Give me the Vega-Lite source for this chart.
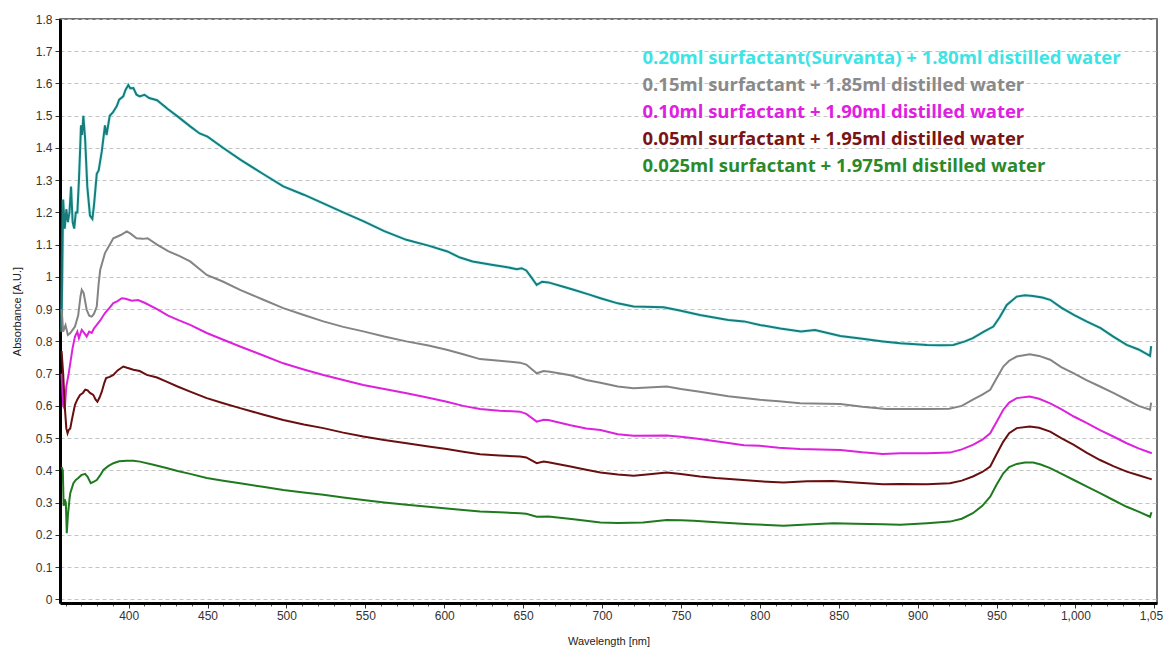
{
  "$schema": "https://vega.github.io/schema/vega-lite/v6.json",
  "width": 1097,
  "height": 584,
  "autosize": {"type": "none"},
  "padding": {"left": 60, "top": 19, "right": 6, "bottom": 49},
  "background": "white",
  "config": {
    "view": {"stroke": "#444", "strokeWidth": 1.5},
    "axis": {"labelFont": "Liberation Sans", "labelFontSize": 12, "labelColor": "#333", "titleFont": "Liberation Sans", "titleFontSize": 11, "titleFontWeight": "normal", "titleColor": "#222", "domainColor": "#000", "domainWidth": 3, "tickColor": "#333", "gridColor": "#c4c4c4", "gridDash": [4, 3], "gridWidth": 1}
  },
  "data": {"values": [
    {"k":"a","w":357.5,"v":0.83},{"k":"a","w":358.5,"v":1.24},{"k":"a","w":359.5,"v":1.15},{"k":"a","w":360.5,"v":1.21},{"k":"a","w":361.5,"v":1.17},{"k":"a","w":362.5,"v":1.2},{"k":"a","w":363.5,"v":1.28},{"k":"a","w":364.5,"v":1.17},{"k":"a","w":365.5,"v":1.15},{"k":"a","w":366.5,"v":1.2},{"k":"a","w":367.5,"v":1.2},{"k":"a","w":368.5,"v":1.3},{"k":"a","w":369.3,"v":1.4},{"k":"a","w":369.8,"v":1.47},{"k":"a","w":370.5,"v":1.44},{"k":"a","w":371.3,"v":1.5},{"k":"a","w":372.4,"v":1.43},{"k":"a","w":373.8,"v":1.28},{"k":"a","w":375.5,"v":1.19},{"k":"a","w":377,"v":1.18},{"k":"a","w":378,"v":1.22},{"k":"a","w":379.8,"v":1.32},{"k":"a","w":381,"v":1.33},{"k":"a","w":383,"v":1.39},{"k":"a","w":385,"v":1.47},{"k":"a","w":386,"v":1.44},{"k":"a","w":388,"v":1.5},{"k":"a","w":390,"v":1.51},{"k":"a","w":392.5,"v":1.53},{"k":"a","w":394,"v":1.55},{"k":"a","w":396.6,"v":1.56},{"k":"a","w":398,"v":1.58},{"k":"a","w":399.8,"v":1.595},{"k":"a","w":401,"v":1.585},{"k":"a","w":403,"v":1.586},{"k":"a","w":405,"v":1.565},{"k":"a","w":407,"v":1.56},{"k":"a","w":410,"v":1.565},{"k":"a","w":413,"v":1.555},{"k":"a","w":418,"v":1.548},{"k":"a","w":425,"v":1.52},{"k":"a","w":431,"v":1.498},{"k":"a","w":439,"v":1.467},{"k":"a","w":445,"v":1.445},{"k":"a","w":450,"v":1.435},{"k":"a","w":460,"v":1.4},{"k":"a","w":471,"v":1.363},{"k":"a","w":485,"v":1.32},{"k":"a","w":498,"v":1.281},{"k":"a","w":511,"v":1.255},{"k":"a","w":523,"v":1.229},{"k":"a","w":536,"v":1.2},{"k":"a","w":549,"v":1.172},{"k":"a","w":562,"v":1.142},{"k":"a","w":576,"v":1.115},{"k":"a","w":590,"v":1.097},{"k":"a","w":602,"v":1.079},{"k":"a","w":610,"v":1.06},{"k":"a","w":618,"v":1.048},{"k":"a","w":630,"v":1.038},{"k":"a","w":640,"v":1.03},{"k":"a","w":646,"v":1.024},{"k":"a","w":649,"v":1.027},{"k":"a","w":652,"v":1.02},{"k":"a","w":655,"v":1.0},{"k":"a","w":658.6,"v":0.975},{"k":"a","w":662,"v":0.985},{"k":"a","w":666,"v":0.983},{"k":"a","w":675,"v":0.97},{"k":"a","w":682,"v":0.96},{"k":"a","w":692,"v":0.945},{"k":"a","w":699,"v":0.934},{"k":"a","w":710,"v":0.918},{"k":"a","w":720,"v":0.908},{"k":"a","w":739,"v":0.906},{"k":"a","w":750,"v":0.895},{"k":"a","w":762,"v":0.882},{"k":"a","w":780,"v":0.866},{"k":"a","w":790,"v":0.862},{"k":"a","w":800,"v":0.851},{"k":"a","w":813,"v":0.84},{"k":"a","w":826,"v":0.831},{"k":"a","w":835,"v":0.835},{"k":"a","w":851,"v":0.817},{"k":"a","w":865,"v":0.808},{"k":"a","w":878,"v":0.8},{"k":"a","w":889,"v":0.794},{"k":"a","w":906,"v":0.789},{"k":"a","w":915,"v":0.788},{"k":"a","w":922.6,"v":0.789},{"k":"a","w":930,"v":0.8},{"k":"a","w":935,"v":0.81},{"k":"a","w":942,"v":0.83},{"k":"a","w":948,"v":0.846},{"k":"a","w":952,"v":0.875},{"k":"a","w":956.5,"v":0.913},{"k":"a","w":962.8,"v":0.939},{"k":"a","w":968,"v":0.943},{"k":"a","w":973,"v":0.941},{"k":"a","w":979,"v":0.936},{"k":"a","w":984,"v":0.929},{"k":"a","w":991,"v":0.905},{"k":"a","w":999,"v":0.882},{"k":"a","w":1007,"v":0.862},{"k":"a","w":1016,"v":0.841},{"k":"a","w":1024,"v":0.815},{"k":"a","w":1032.5,"v":0.789},{"k":"a","w":1040,"v":0.775},{"k":"a","w":1047.3,"v":0.755},{"k":"a","w":1048,"v":0.785},

    {"k":"b","w":357.5,"v":0.9},{"k":"b","w":358.5,"v":0.83},{"k":"b","w":360,"v":0.85},{"k":"b","w":361.5,"v":0.82},{"k":"b","w":363,"v":0.826},{"k":"b","w":366,"v":0.846},{"k":"b","w":368,"v":0.88},{"k":"b","w":369.5,"v":0.94},{"k":"b","w":370.3,"v":0.96},{"k":"b","w":371.5,"v":0.95},{"k":"b","w":373.4,"v":0.898},{"k":"b","w":375,"v":0.88},{"k":"b","w":376.6,"v":0.877},{"k":"b","w":378,"v":0.885},{"k":"b","w":379.8,"v":0.908},{"k":"b","w":381,"v":0.98},{"k":"b","w":382,"v":1.022},{"k":"b","w":385,"v":1.074},{"k":"b","w":388,"v":1.1},{"k":"b","w":390.3,"v":1.12},{"k":"b","w":395,"v":1.13},{"k":"b","w":398.8,"v":1.141},{"k":"b","w":401,"v":1.135},{"k":"b","w":405,"v":1.12},{"k":"b","w":409,"v":1.118},{"k":"b","w":412,"v":1.12},{"k":"b","w":418,"v":1.1},{"k":"b","w":425,"v":1.08},{"k":"b","w":432,"v":1.065},{"k":"b","w":439,"v":1.048},{"k":"b","w":449.5,"v":1.006},{"k":"b","w":460,"v":0.985},{"k":"b","w":470.6,"v":0.96},{"k":"b","w":485,"v":0.93},{"k":"b","w":498,"v":0.903},{"k":"b","w":511,"v":0.882},{"k":"b","w":523.4,"v":0.862},{"k":"b","w":536,"v":0.845},{"k":"b","w":548.7,"v":0.831},{"k":"b","w":562,"v":0.815},{"k":"b","w":576,"v":0.8},{"k":"b","w":590,"v":0.787},{"k":"b","w":601.6,"v":0.774},{"k":"b","w":612,"v":0.76},{"k":"b","w":622.7,"v":0.745},{"k":"b","w":635,"v":0.74},{"k":"b","w":648,"v":0.734},{"k":"b","w":652,"v":0.728},{"k":"b","w":658.6,"v":0.701},{"k":"b","w":663,"v":0.708},{"k":"b","w":667,"v":0.706},{"k":"b","w":680,"v":0.695},{"k":"b","w":690,"v":0.68},{"k":"b","w":699,"v":0.672},{"k":"b","w":710,"v":0.66},{"k":"b","w":720,"v":0.655},{"k":"b","w":741,"v":0.66},{"k":"b","w":750,"v":0.652},{"k":"b","w":762,"v":0.644},{"k":"b","w":780,"v":0.63},{"k":"b","w":800,"v":0.619},{"k":"b","w":812,"v":0.614},{"k":"b","w":825.5,"v":0.608},{"k":"b","w":851,"v":0.606},{"k":"b","w":865,"v":0.597},{"k":"b","w":880,"v":0.59},{"k":"b","w":906,"v":0.59},{"k":"b","w":920,"v":0.591},{"k":"b","w":928,"v":0.6},{"k":"b","w":935,"v":0.619},{"k":"b","w":941,"v":0.635},{"k":"b","w":946,"v":0.65},{"k":"b","w":950,"v":0.685},{"k":"b","w":954.3,"v":0.722},{"k":"b","w":958,"v":0.74},{"k":"b","w":962.8,"v":0.753},{"k":"b","w":971,"v":0.76},{"k":"b","w":977,"v":0.755},{"k":"b","w":984,"v":0.743},{"k":"b","w":991,"v":0.72},{"k":"b","w":999,"v":0.701},{"k":"b","w":1007,"v":0.68},{"k":"b","w":1015.6,"v":0.66},{"k":"b","w":1024,"v":0.64},{"k":"b","w":1032.5,"v":0.619},{"k":"b","w":1040,"v":0.6},{"k":"b","w":1047.3,"v":0.588},{"k":"b","w":1048,"v":0.61},

    {"k":"c","w":357.5,"v":0.7},{"k":"c","w":358.5,"v":0.6},{"k":"c","w":359.5,"v":0.59},{"k":"c","w":360.5,"v":0.66},{"k":"c","w":362,"v":0.7},{"k":"c","w":363,"v":0.732},{"k":"c","w":364.5,"v":0.78},{"k":"c","w":366,"v":0.815},{"k":"c","w":367.5,"v":0.83},{"k":"c","w":368.5,"v":0.81},{"k":"c","w":370.3,"v":0.836},{"k":"c","w":372,"v":0.825},{"k":"c","w":373.4,"v":0.815},{"k":"c","w":375,"v":0.83},{"k":"c","w":376.6,"v":0.826},{"k":"c","w":378,"v":0.84},{"k":"c","w":379.8,"v":0.851},{"k":"c","w":382,"v":0.865},{"k":"c","w":385,"v":0.888},{"k":"c","w":388,"v":0.905},{"k":"c","w":390.3,"v":0.919},{"k":"c","w":393,"v":0.925},{"k":"c","w":395.6,"v":0.934},{"k":"c","w":398,"v":0.932},{"k":"c","w":402,"v":0.926},{"k":"c","w":406,"v":0.928},{"k":"c","w":410.4,"v":0.919},{"k":"c","w":418,"v":0.9},{"k":"c","w":425,"v":0.88},{"k":"c","w":432,"v":0.865},{"k":"c","w":439,"v":0.851},{"k":"c","w":449.5,"v":0.826},{"k":"c","w":460,"v":0.805},{"k":"c","w":470.6,"v":0.784},{"k":"c","w":485,"v":0.757},{"k":"c","w":498,"v":0.732},{"k":"c","w":511,"v":0.713},{"k":"c","w":523.4,"v":0.696},{"k":"c","w":536,"v":0.68},{"k":"c","w":548.7,"v":0.665},{"k":"c","w":562,"v":0.652},{"k":"c","w":576.2,"v":0.639},{"k":"c","w":590,"v":0.625},{"k":"c","w":601.6,"v":0.613},{"k":"c","w":612,"v":0.6},{"k":"c","w":622.7,"v":0.59},{"k":"c","w":635,"v":0.585},{"k":"c","w":648,"v":0.582},{"k":"c","w":652,"v":0.575},{"k":"c","w":658.6,"v":0.551},{"k":"c","w":663,"v":0.557},{"k":"c","w":666,"v":0.556},{"k":"c","w":680,"v":0.54},{"k":"c","w":690,"v":0.53},{"k":"c","w":699,"v":0.525},{"k":"c","w":710,"v":0.512},{"k":"c","w":720,"v":0.507},{"k":"c","w":741,"v":0.508},{"k":"c","w":750,"v":0.504},{"k":"c","w":762,"v":0.497},{"k":"c","w":780,"v":0.485},{"k":"c","w":790,"v":0.478},{"k":"c","w":800,"v":0.476},{"k":"c","w":812,"v":0.47},{"k":"c","w":825.5,"v":0.466},{"k":"c","w":851,"v":0.463},{"k":"c","w":865,"v":0.456},{"k":"c","w":878,"v":0.451},{"k":"c","w":889,"v":0.453},{"k":"c","w":906,"v":0.453},{"k":"c","w":920.5,"v":0.455},{"k":"c","w":928,"v":0.465},{"k":"c","w":935,"v":0.479},{"k":"c","w":941,"v":0.495},{"k":"c","w":946,"v":0.515},{"k":"c","w":950,"v":0.55},{"k":"c","w":954.3,"v":0.588},{"k":"c","w":958,"v":0.61},{"k":"c","w":962.8,"v":0.624},{"k":"c","w":971,"v":0.629},{"k":"c","w":977,"v":0.622},{"k":"c","w":984,"v":0.608},{"k":"c","w":991,"v":0.59},{"k":"c","w":999,"v":0.567},{"k":"c","w":1007,"v":0.547},{"k":"c","w":1015.6,"v":0.525},{"k":"c","w":1024,"v":0.505},{"k":"c","w":1032.5,"v":0.484},{"k":"c","w":1040,"v":0.468},{"k":"c","w":1048.4,"v":0.453},

    {"k":"d","w":357.5,"v":0.77},{"k":"d","w":358.5,"v":0.7},{"k":"d","w":359.5,"v":0.6},{"k":"d","w":360.5,"v":0.53},{"k":"d","w":361.3,"v":0.515},{"k":"d","w":362,"v":0.525},{"k":"d","w":363,"v":0.53},{"k":"d","w":364,"v":0.556},{"k":"d","w":365,"v":0.58},{"k":"d","w":366,"v":0.603},{"k":"d","w":367.5,"v":0.62},{"k":"d","w":369.2,"v":0.634},{"k":"d","w":371,"v":0.64},{"k":"d","w":372.5,"v":0.65},{"k":"d","w":374,"v":0.648},{"k":"d","w":375.5,"v":0.64},{"k":"d","w":377.6,"v":0.634},{"k":"d","w":379,"v":0.62},{"k":"d","w":380.2,"v":0.613},{"k":"d","w":381.5,"v":0.625},{"k":"d","w":383,"v":0.644},{"k":"d","w":384.5,"v":0.67},{"k":"d","w":385.7,"v":0.686},{"k":"d","w":388,"v":0.69},{"k":"d","w":390.3,"v":0.696},{"k":"d","w":393,"v":0.71},{"k":"d","w":396.6,"v":0.722},{"k":"d","w":399,"v":0.718},{"k":"d","w":403,"v":0.712},{"k":"d","w":407,"v":0.708},{"k":"d","w":411.5,"v":0.696},{"k":"d","w":418,"v":0.688},{"k":"d","w":424,"v":0.675},{"k":"d","w":431,"v":0.66},{"k":"d","w":439,"v":0.644},{"k":"d","w":449.5,"v":0.624},{"k":"d","w":460,"v":0.608},{"k":"d","w":470.6,"v":0.593},{"k":"d","w":485,"v":0.573},{"k":"d","w":498,"v":0.556},{"k":"d","w":511,"v":0.542},{"k":"d","w":523.4,"v":0.531},{"k":"d","w":536,"v":0.517},{"k":"d","w":548.7,"v":0.505},{"k":"d","w":562,"v":0.494},{"k":"d","w":576.2,"v":0.484},{"k":"d","w":590,"v":0.474},{"k":"d","w":601.6,"v":0.466},{"k":"d","w":612,"v":0.458},{"k":"d","w":622.7,"v":0.45},{"k":"d","w":635,"v":0.446},{"k":"d","w":648,"v":0.443},{"k":"d","w":652,"v":0.44},{"k":"d","w":658.6,"v":0.422},{"k":"d","w":663,"v":0.427},{"k":"d","w":666,"v":0.425},{"k":"d","w":680,"v":0.412},{"k":"d","w":690,"v":0.402},{"k":"d","w":699,"v":0.393},{"k":"d","w":710,"v":0.387},{"k":"d","w":720,"v":0.383},{"k":"d","w":730,"v":0.388},{"k":"d","w":741,"v":0.393},{"k":"d","w":750,"v":0.389},{"k":"d","w":762,"v":0.381},{"k":"d","w":772,"v":0.376},{"k":"d","w":783,"v":0.372},{"k":"d","w":800,"v":0.366},{"k":"d","w":815,"v":0.362},{"k":"d","w":830,"v":0.366},{"k":"d","w":846,"v":0.367},{"k":"d","w":860,"v":0.362},{"k":"d","w":878,"v":0.357},{"k":"d","w":889,"v":0.358},{"k":"d","w":906,"v":0.357},{"k":"d","w":920.5,"v":0.36},{"k":"d","w":928,"v":0.368},{"k":"d","w":935,"v":0.381},{"k":"d","w":941,"v":0.395},{"k":"d","w":946,"v":0.412},{"k":"d","w":950,"v":0.45},{"k":"d","w":954.3,"v":0.489},{"k":"d","w":958,"v":0.515},{"k":"d","w":962.8,"v":0.531},{"k":"d","w":971,"v":0.536},{"k":"d","w":977,"v":0.532},{"k":"d","w":984,"v":0.52},{"k":"d","w":991,"v":0.5},{"k":"d","w":999,"v":0.479},{"k":"d","w":1007,"v":0.455},{"k":"d","w":1015.6,"v":0.432},{"k":"d","w":1024,"v":0.413},{"k":"d","w":1032.5,"v":0.396},{"k":"d","w":1040,"v":0.385},{"k":"d","w":1048.4,"v":0.372},

    {"k":"e","w":357.5,"v":0.41},{"k":"e","w":358.3,"v":0.4},{"k":"e","w":358.8,"v":0.29},{"k":"e","w":359.5,"v":0.31},{"k":"e","w":360.2,"v":0.3},{"k":"e","w":360.8,"v":0.205},{"k":"e","w":361.5,"v":0.26},{"k":"e","w":362.5,"v":0.31},{"k":"e","w":363,"v":0.329},{"k":"e","w":365,"v":0.36},{"k":"e","w":366.5,"v":0.37},{"k":"e","w":368.1,"v":0.376},{"k":"e","w":370,"v":0.385},{"k":"e","w":372.4,"v":0.389},{"k":"e","w":374,"v":0.38},{"k":"e","w":376,"v":0.36},{"k":"e","w":378,"v":0.365},{"k":"e","w":379.8,"v":0.37},{"k":"e","w":382,"v":0.385},{"k":"e","w":384,"v":0.401},{"k":"e","w":387,"v":0.413},{"k":"e","w":390.3,"v":0.422},{"k":"e","w":394,"v":0.428},{"k":"e","w":398.8,"v":0.43},{"k":"e","w":403,"v":0.43},{"k":"e","w":407.2,"v":0.427},{"k":"e","w":415,"v":0.418},{"k":"e","w":424,"v":0.407},{"k":"e","w":431,"v":0.398},{"k":"e","w":439,"v":0.389},{"k":"e","w":449.5,"v":0.376},{"k":"e","w":460,"v":0.368},{"k":"e","w":470.6,"v":0.36},{"k":"e","w":485,"v":0.349},{"k":"e","w":498,"v":0.339},{"k":"e","w":511,"v":0.331},{"k":"e","w":523.4,"v":0.324},{"k":"e","w":536,"v":0.316},{"k":"e","w":548.7,"v":0.308},{"k":"e","w":562,"v":0.3},{"k":"e","w":576.2,"v":0.293},{"k":"e","w":590,"v":0.287},{"k":"e","w":601.6,"v":0.282},{"k":"e","w":612,"v":0.277},{"k":"e","w":622.7,"v":0.272},{"k":"e","w":635,"v":0.27},{"k":"e","w":648,"v":0.267},{"k":"e","w":652,"v":0.265},{"k":"e","w":658.6,"v":0.256},{"k":"e","w":666,"v":0.257},{"k":"e","w":682,"v":0.248},{"k":"e","w":699,"v":0.238},{"k":"e","w":710,"v":0.237},{"k":"e","w":726,"v":0.238},{"k":"e","w":741,"v":0.246},{"k":"e","w":750,"v":0.245},{"k":"e","w":758,"v":0.244},{"k":"e","w":775,"v":0.238},{"k":"e","w":794,"v":0.233},{"k":"e","w":815,"v":0.228},{"k":"e","w":830,"v":0.232},{"k":"e","w":846.6,"v":0.236},{"k":"e","w":860,"v":0.234},{"k":"e","w":878,"v":0.233},{"k":"e","w":889,"v":0.231},{"k":"e","w":906,"v":0.236},{"k":"e","w":920.5,"v":0.241},{"k":"e","w":928,"v":0.25},{"k":"e","w":935,"v":0.267},{"k":"e","w":941,"v":0.29},{"k":"e","w":946,"v":0.318},{"k":"e","w":950,"v":0.355},{"k":"e","w":954.3,"v":0.391},{"k":"e","w":958,"v":0.41},{"k":"e","w":962.8,"v":0.42},{"k":"e","w":968,"v":0.424},{"k":"e","w":973.3,"v":0.424},{"k":"e","w":978,"v":0.418},{"k":"e","w":984,"v":0.407},{"k":"e","w":991,"v":0.39},{"k":"e","w":999,"v":0.37},{"k":"e","w":1007,"v":0.35},{"k":"e","w":1015.6,"v":0.329},{"k":"e","w":1024,"v":0.308},{"k":"e","w":1032.5,"v":0.287},{"k":"e","w":1040,"v":0.272},{"k":"e","w":1047.3,"v":0.256},{"k":"e","w":1048.2,"v":0.27}
  ]},
  "resolve": {"axis": {"x": "independent"}},
  "layer": [
    {
      "transform": [{"filter": "datum.k == 'a'"}],
      "mark": {"type": "line", "color": "#6ff2f2", "strokeWidth": 3.5, "opacity": 0.35},
      "encoding": {
        "x": {"field": "w", "type": "quantitative", "scale": {"domain": [356.5, 1051.7], "nice": false, "zero": false},
          "axis": {"orient": "bottom", "values": [360,370,380,390,410,420,430,440,460,470,480,490,510,520,530,540,560,570,580,590,610,620,630,640,660,670,680,690,710,720,730,740,760,770,780,790,810,820,830,840,860,870,880,890,910,920,930,940,960,970,980,990,1010,1020,1030,1040], "labels": false, "grid": false, "domain": false, "tickSize": 3, "tickColor": "#555", "title": null}},
        "y": {"field": "v", "type": "quantitative", "scale": {"domain": [-0.0115, 1.8], "nice": false, "zero": false},
          "axis": {"values": [0,0.1,0.2,0.3,0.4,0.5,0.6,0.7,0.8,0.9,1,1.1,1.2,1.3,1.4,1.5,1.6,1.7,1.8], "labelExpr": "format(datum.value, '.1~f')", "tickSize": 5, "labelPadding": 3, "title": "Absorbance [A.U.]", "titlePadding": 13}}
      }
    },
    {
      "mark": {"type": "line", "strokeWidth": 2},
      "encoding": {
        "x": {"field": "w", "type": "quantitative", "scale": {"domain": [356.5, 1051.7], "nice": false, "zero": false},
          "axis": {"orient": "bottom", "values": [400,450,500,550,600,650,700,750,800,850,900,950,1000,1050], "labelExpr": "format(datum.value, ',')", "tickSize": 5, "labelPadding": 2, "title": "Wavelength [nm]", "titlePadding": 14}},
        "y": {"field": "v", "type": "quantitative", "scale": {"domain": [-0.0115, 1.8], "nice": false, "zero": false},
          "axis": {"values": [0,0.1,0.2,0.3,0.4,0.5,0.6,0.7,0.8,0.9,1,1.1,1.2,1.3,1.4,1.5,1.6,1.7,1.8], "labelExpr": "format(datum.value, '.1~f')", "tickSize": 5, "labelPadding": 3, "title": "Absorbance [A.U.]", "titlePadding": 13}},
        "color": {"field": "k", "type": "nominal",
          "scale": {"domain": ["a","b","c","d","e"], "range": ["#187c7c", "#848484", "#dd22dd", "#6a0f0f", "#1f7a1f"]},
          "legend": {"orient": "none", "legendX": 564, "legendY": 30, "title": null,
            "labelExpr": "datum.value == 'a' ? '0.20ml surfactant(Survanta) + 1.80ml distilled water' : datum.value == 'b' ? '0.15ml surfactant + 1.85ml distilled water' : datum.value == 'c' ? '0.10ml surfactant + 1.90ml distilled water' : datum.value == 'd' ? '0.05ml surfactant + 1.95ml distilled water' : '0.025ml surfactant + 1.975ml distilled water'",
            "labelFont": "Open Sans", "labelFontSize": 18.5, "labelFontWeight": "bold", "labelLimit": 700, "labelOffset": 0,
            "symbolSize": 0, "symbolStrokeWidth": 0, "symbolOpacity": 0, "rowPadding": 8,
            "encode": {"labels": {"update": {"fill": {"signal": "datum.value == 'a' ? '#3ee4e4' : datum.value == 'b' ? '#8a8a8a' : datum.value == 'c' ? '#e020e0' : datum.value == 'd' ? '#7a1414' : '#2a8a2a'"}}}}
          }
        }
      }
    }
  ]
}
